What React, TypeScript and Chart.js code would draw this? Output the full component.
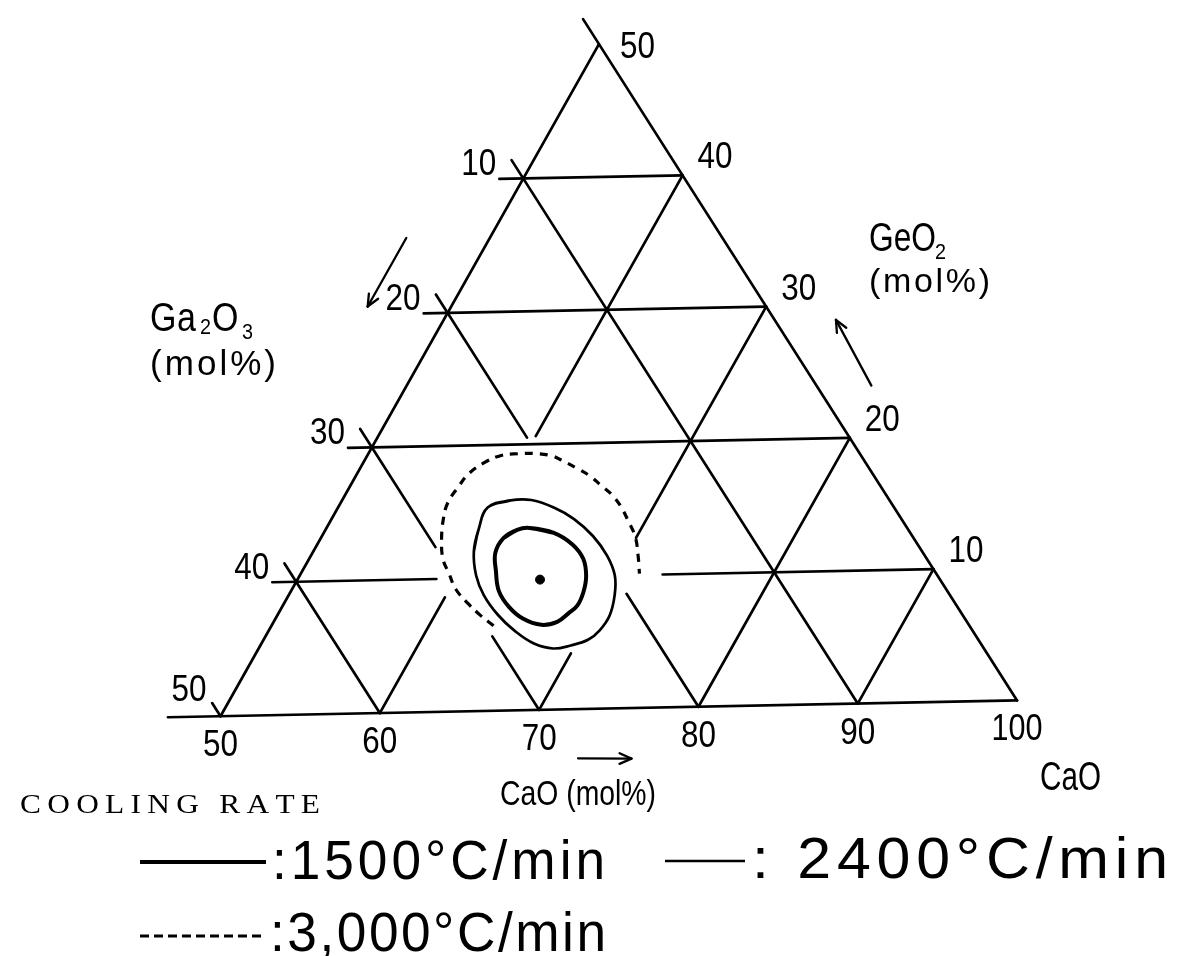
import React, { useEffect, useRef } from "react";
import { Chart, registerables } from "chart.js";

Chart.register(...registerables);

// ---------- DATA (compositions in mol%; Ga2O3 = 100 - CaO - GeO2) ----------
const gaTicks = [10, 20, 30, 40, 50]; // Ga2O3 ticks on the left side
const geTicks = [10, 20, 30, 40, 50]; // GeO2 ticks on the right side
const caTicks = [50, 60, 70, 80, 90, 100]; // CaO ticks on the base

// grid segments: [CaO1, GeO2_1, CaO2, GeO2_2]
const frameSegments = [
  [46.7, 0, 100, 0],
  [50, 0, 50, 50],
  [100, 0, 48.1, 51.9],
];
const geO2Lines = [
  [48.5, 40, 60, 40],
  [48.5, 30, 70, 30],
  [48.5, 20, 80, 20],
  [48.5, 10, 58.8, 10],
  [73, 10, 90, 10],
];
const caOLines = [
  [60, 0, 60, 8.6],
  [60, 20.6, 60, 40],
  [70, 0, 70, 4.2],
  [70, 12.8, 70, 30],
  [80, 0, 80, 20],
  [90, 0, 90, 10],
];
const ga2O3Lines = [
  [48.6, 41.4, 90, 0],
  [48.6, 31.4, 59.5, 20.5],
  [71.4, 8.6, 80, 0],
  [48.6, 21.4, 57.6, 12.4],
  [64.4, 5.6, 70, 0],
  [48.6, 11.4, 60, 0],
  [49, 1, 50, 0],
];

// cooling-rate boundaries
const rate1500CaO = [62.9, 64.6, 66.2, 67.4, 68.2, 68.6, 68.7, 68.4, 68.0, 67.1, 65.7, 64.4, 63.2, 62.3, 61.6, 61.6, 62.2];
const rate1500GeO2 = [13.7, 13.3, 12.4, 11.3, 10.0, 8.8, 7.8, 7.2, 6.6, 6.4, 6.9, 7.8, 9.0, 10.5, 11.9, 13.0, 13.6];

const rate2400CaO = [59.5, 60.7, 62.0, 63.7, 65.4, 67.2, 68.8, 70.0, 70.7, 71.1, 71.0, 70.6, 69.7, 68.7, 67.3, 65.6, 64.0, 62.4, 61.2, 60.2, 59.7];
const rate2400GeO2 = [15.3, 15.8, 15.8, 15.2, 14.3, 13.0, 11.5, 10.0, 8.5, 7.0, 5.9, 5.2, 4.8, 4.6, 5.0, 6.0, 7.2, 8.7, 10.2, 12.0, 13.7];

const rate3000CaO = [64.1, 62.9, 61.7, 60.4, 59.4, 58.5, 57.7, 57.1, 56.8, 56.9, 57.1, 57.7, 58.5, 59.5, 60.5, 61.7, 62.6, 63.8, 64.9, 65.9, 66.9, 67.9, 68.8, 69.9, 70.8, 71.5];
const rate3000GeO2 = [6.4, 7.2, 8.1, 9.2, 10.4, 11.5, 13.0, 14.5, 15.7, 16.9, 17.9, 18.7, 19.2, 19.3, 19.3, 19.1, 18.7, 18.1, 17.5, 16.8, 16.1, 15.2, 14.2, 12.9, 11.4, 10.1];

const centerCaO = [65.4];
const centerGeO2 = [9.8];

// direction arrows: [CaO1, GeO2_1, CaO2, GeO2_2] (tail -> head)
const axisArrows = [
  [44.7, 35.7, 44.7, 30.6],
  [79.5, 23.9, 74.9, 28.9],
  [74.2, -3.7, 77.6, -3.8],
];

const legendTitle = "COOLING RATE";
const legendLabels = [":1500°C/min", ": 2400°C/min", ":3,000°C/min"];

// ---------- layout constants ----------
const W = 1191;
const H = 956;
const X_PX = 16.08; // px per mol% along the base
const Y_PX = 13.44;
const ORIGIN = { x: 217, y: 719 }; // pixel of CaO 50 / GeO2 0
const SKEW_X = -1.244; // slight tilt of the scanned drawing
const SKEW_Y = 1.19;
const LINE_W = 2.7;

function project(c: number, g: number) {
  const t = (c - 50 + g / 2) / 50;
  const h = g / 50;
  return { x: 50 + 50 * t + SKEW_X * h, y: 50 * h + SKEW_Y * t };
}

const X_MIN = 50 - ORIGIN.x / X_PX;
const X_MAX = X_MIN + W / X_PX;
const Y_MAX = ORIGIN.y / Y_PX;
const Y_MIN = Y_MAX - H / Y_PX;

function seg(s: number[], width = LINE_W) {
  return {
    data: [project(s[0], s[1]), project(s[2], s[3])],
    showLine: true,
    borderColor: "#000",
    borderWidth: width,
    pointRadius: 0,
    fill: false,
    borderCapStyle: "round",
  };
}

function curve(cs: number[], gs: number[], closed: boolean, width: number, dash: number[] = []) {
  let pts = cs.map((c, i) => project(c, gs[i]));
  if (closed) {
    const n = pts.length;
    pts = [pts[n - 2], pts[n - 1], ...pts, pts[0], pts[1]];
  }
  return {
    data: pts,
    showLine: true,
    borderColor: "#000",
    borderWidth: width,
    borderDash: dash,
    borderCapStyle: dash.length ? "butt" : "round",
    pointRadius: 0,
    tension: 0.4,
    fill: false,
  };
}

const FONT = "'Liberation Sans', Arial, sans-serif";
const SERIF = "'Liberation Serif', 'DejaVu Serif', serif";

// draws text with (optionally condensed) glyphs, spread to the requested width
function spacedText(
  ctx: CanvasRenderingContext2D,
  text: string,
  x: number,
  y: number,
  size: number,
  width: number,
  squeeze: number,
  align: "left" | "right" | "center",
  family = FONT
) {
  ctx.save();
  ctx.font = `${size}px ${family}`;
  ctx.textAlign = "left";
  ctx.textBaseline = "alphabetic";
  ctx.fillStyle = "#000";
  const chars = Array.from(text);
  const ws = chars.map((ch) => ctx.measureText(ch).width * squeeze);
  const total = ws.reduce((a, b) => a + b, 0);
  let sq = squeeze;
  let gap = chars.length > 1 ? (width - total) / (chars.length - 1) : 0;
  if (gap < 0) {
    sq = (squeeze * width) / total;
    gap = 0;
  }
  const left = align === "left" ? x : align === "right" ? x - width : x - width / 2;
  let cx = left;
  chars.forEach((ch, i) => {
    ctx.save();
    ctx.translate(cx, y);
    ctx.scale(sq, 1);
    ctx.fillText(ch, 0, 0);
    ctx.restore();
    cx += (ws[i] * sq) / squeeze + gap;
  });
  ctx.restore();
}

function arrowHead(ctx: CanvasRenderingContext2D, x0: number, y0: number, x1: number, y1: number, len: number) {
  const a = Math.atan2(y1 - y0, x1 - x0);
  for (const d of [0.42, -0.42]) {
    ctx.beginPath();
    ctx.moveTo(x1, y1);
    ctx.lineTo(x1 - len * Math.cos(a + d), y1 - len * Math.sin(a + d));
    ctx.stroke();
  }
}

const decorPlugin = {
  id: "decor",
  beforeDraw(chart: any) {
    const ctx = chart.ctx;
    ctx.save();
    ctx.fillStyle = "#fff";
    ctx.fillRect(0, 0, chart.width, chart.height);
    ctx.restore();
  },
  afterDraw(chart: any) {
    const ctx: CanvasRenderingContext2D = chart.ctx;
    const xs = chart.scales.x;
    const ys = chart.scales.y;
    const P = (c: number, g: number) => {
      const p = project(c, g);
      return { x: xs.getPixelForValue(p.x), y: ys.getPixelForValue(p.y) };
    };
    ctx.save();
    ctx.fillStyle = "#000";
    ctx.strokeStyle = "#000";
    ctx.lineWidth = 2.3;
    ctx.lineCap = "round";

    const TS = 37;
    // left side ticks (Ga2O3)
    gaTicks.forEach((v) => {
      const p = P(50, 50 - v);
      const txt = String(v);
      if (v === 50) spacedText(ctx, txt, p.x - 14, p.y - 15, TS, 35, 0.85, "right");
      else spacedText(ctx, txt, p.x - 27, p.y - 3, TS, 35, 0.85, "right");
    });
    // right side ticks (GeO2)
    geTicks.forEach((v) => {
      const p = P(100 - v, v);
      const txt = String(v);
      if (v === 50) spacedText(ctx, txt, p.x + 21, p.y + 14, TS, 35, 0.85, "left");
      else spacedText(ctx, txt, p.x + 15, p.y - 7, TS, 35, 0.85, "left");
    });
    // base ticks (CaO)
    caTicks.forEach((v) => {
      const p = P(v, 0);
      const txt = String(v);
      spacedText(ctx, txt, p.x, p.y + 40, TS, txt.length === 3 ? 51 : 35, 0.85, "center");
    });

    // arrows
    axisArrows.forEach((a) => {
      const p0 = P(a[0], a[1]);
      const p1 = P(a[2], a[3]);
      ctx.beginPath();
      ctx.moveTo(p0.x, p0.y);
      ctx.lineTo(p1.x, p1.y);
      ctx.stroke();
      arrowHead(ctx, p0.x, p0.y, p1.x, p1.y, 13);
    });

    // axis titles
    spacedText(ctx, "Ga", 150, 331, 40, 46, 0.85, "left");
    spacedText(ctx, "2", 200, 334, 22, 10, 0.9, "left");
    spacedText(ctx, "O", 212, 331, 40, 28, 0.85, "left");
    spacedText(ctx, "3", 242, 339, 22, 10, 0.9, "left");
    spacedText(ctx, "(mol%)", 150, 375, 35, 126, 1.0, "left");

    spacedText(ctx, "GeO", 869, 251, 40, 67, 0.85, "left");
    spacedText(ctx, "2", 935, 259, 22, 10, 0.9, "left");
    spacedText(ctx, "(mol%)", 869, 292, 34, 121, 1.0, "left");

    spacedText(ctx, "CaO (mol%)", 500, 805, 35, 156, 0.82, "left");
    spacedText(ctx, "CaO", 1040, 790, 40, 61, 0.8, "left");

    // legend
    spacedText(ctx, legendTitle, 20, 813, 28, 300, 1.12, "left", SERIF);

    ctx.lineCap = "butt";
    ctx.lineWidth = 4;
    ctx.beginPath();
    ctx.moveTo(140, 862);
    ctx.lineTo(266, 862);
    ctx.stroke();
    spacedText(ctx, legendLabels[0], 272, 879, 56, 333, 0.95, "left");

    ctx.lineWidth = 2.6;
    ctx.beginPath();
    ctx.moveTo(665, 861);
    ctx.lineTo(745, 861);
    ctx.stroke();
    spacedText(ctx, legendLabels[1], 752, 878, 58, 416, 1.05, "left");

    ctx.lineWidth = 3;
    ctx.setLineDash([9, 5]);
    ctx.beginPath();
    ctx.moveTo(140, 936);
    ctx.lineTo(266, 936);
    ctx.stroke();
    ctx.setLineDash([]);
    spacedText(ctx, legendLabels[2], 270, 951, 56, 336, 0.95, "left");

    ctx.restore();
  },
};

export default function App() {
  const ref = useRef<HTMLCanvasElement | null>(null);
  useEffect(() => {
    if (!ref.current) return;
    const datasets: any[] = [];
    frameSegments.forEach((s) => datasets.push(seg(s)));
    geO2Lines.forEach((s) => datasets.push(seg(s)));
    caOLines.forEach((s) => datasets.push(seg(s)));
    ga2O3Lines.forEach((s) => datasets.push(seg(s)));
    datasets.push(curve(rate1500CaO, rate1500GeO2, true, 4));
    datasets.push(curve(rate2400CaO, rate2400GeO2, true, 2.7));
    datasets.push(curve(rate3000CaO, rate3000GeO2, false, 3.2, [8, 7]));
    datasets.push({
      data: centerCaO.map((c, i) => project(c, centerGeO2[i])),
      showLine: false,
      pointRadius: 4.5,
      pointBackgroundColor: "#000",
      pointBorderColor: "#000",
    });
    const chart = new Chart(ref.current, {
      type: "scatter",
      data: { datasets },
      options: {
        responsive: false,
        maintainAspectRatio: false,
        animation: false,
        events: [],
        layout: { padding: 0 },
        plugins: { legend: { display: false }, tooltip: { enabled: false }, title: { display: false } },
        scales: {
          x: { type: "linear", display: false, min: X_MIN, max: X_MAX },
          y: { type: "linear", display: false, min: Y_MIN, max: Y_MAX },
        },
      },
      plugins: [decorPlugin],
    } as any);
    return () => chart.destroy();
  }, []);
  return (
    <div style={{ position: "absolute", left: 0, top: 0, width: W, height: H, background: "#fff" }}>
      <canvas ref={ref} width={W} height={H} style={{ display: "block" }} />
    </div>
  );
}
